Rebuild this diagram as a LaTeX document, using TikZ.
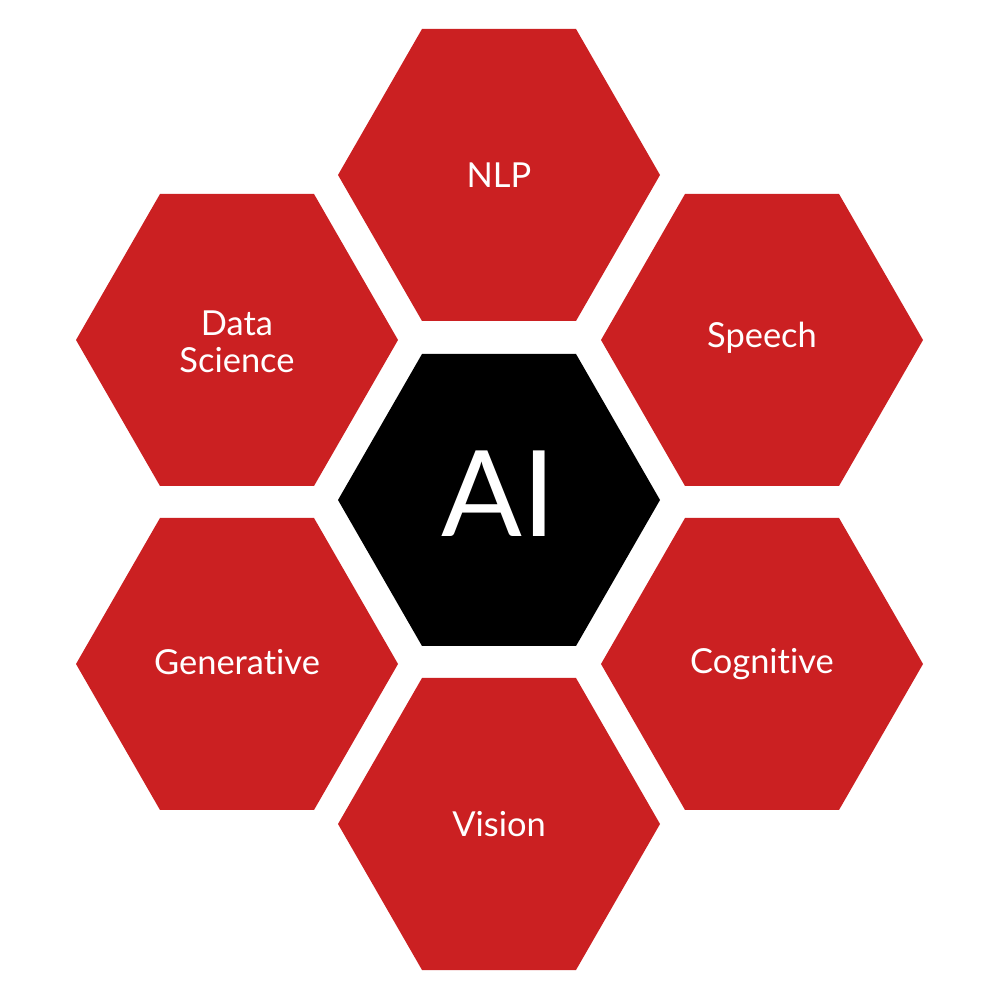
\documentclass[tikz,border=0pt]{standalone}
\usepackage{fontspec}
\setmainfont{Lato}[Ligatures=NoCommon]
\usetikzlibrary{positioning}
\definecolor{hexred}{RGB}{203,32,34}

\begin{document}
\begin{tikzpicture}[
    hexagon/.pic={
      \fill (-1.61,0) -- (-0.77,1.46) -- (0.77,1.46) -- (1.61,0)
        -- (0.77,-1.46) -- (-0.77,-1.46) -- cycle;
    },
    field/.style={
      text=white,
      align=center,
      font=\fontsize{9.8}{10.6}\selectfont
    },
    core/.style={
      text=white,
      font=\fontsize{34}{38}\selectfont
    }
  ]
  \path[use as bounding box] (0,0) rectangle (10,10);

  % Hexagons
  \pic[fill=black] at (4.99,5.00) {hexagon};
  \foreach \pos in {(4.99,8.25),(7.62,6.60),(2.37,6.60),(7.62,3.36),(2.37,3.36),(4.99,1.76)}
    \pic[fill=hexred] at \pos {hexagon};

  % Labels
  \node[core] (ai) at (4.99,5.06) {AI};
  \node[field] (nlp) at (4.99,8.25) {NLP};
  \node[field] (speech) at (7.62,6.62) {Speech};
  \node[field] (datasci) at (2.37,6.58) {Data\\Science};
  \node[field] (cognitive) at (7.62,3.36) {Cognitive};
  \node[field] (generative) at (2.37,3.38) {Generative};
  \node[field] (vision) at (4.99,1.76) {Vision};
\end{tikzpicture}
\end{document}
